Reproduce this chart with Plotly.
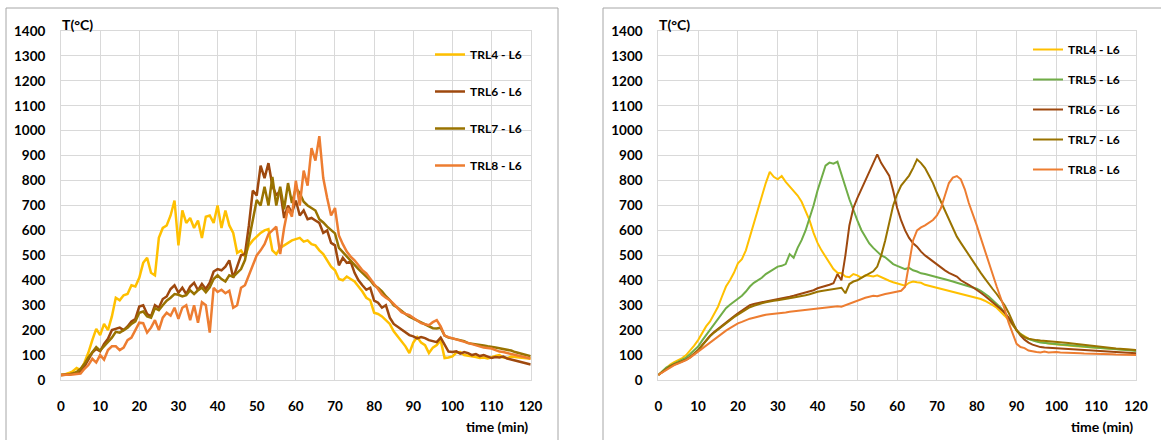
import plotly.graph_objects as go

# ---------------- data ----------------
time_min = list(range(0, 121))

# Left panel
L_TRL4 = [20, 22, 28, 35, 48, 40, 70, 110, 160, 205, 180, 225, 200, 255, 330, 320, 340, 345, 380, 375,
          410, 470, 490, 430, 420, 570, 610, 620, 660, 720, 540, 680, 630, 650, 610, 640, 570, 655, 660, 630,
          700, 610, 680, 620, 590, 510, 520, 495, 540, 560, 575, 590, 600, 605, 520, 505, 530, 540, 550, 560,
          565, 570, 555, 560, 545, 540, 520, 505, 480, 455, 440, 405, 400, 415, 405, 395, 375, 355, 330, 320,
          270, 265, 255, 240, 225, 195, 175, 155, 135, 108, 150, 172, 150, 140, 108, 130, 140, 160, 88, 90,
          95, 110, 112, 100, 98, 96, 92, 88, 90, 86, 92, 96, 100, 90, 88, 94, 92, 90, 86, 85, 85]
L_TRL6 = [20, 20, 22, 25, 28, 32, 55, 85, 110, 125, 115, 145, 165, 200, 205, 210, 200, 215, 235, 245,
          295, 300, 265, 255, 300, 290, 325, 335, 365, 380, 350, 370, 345, 375, 390, 360, 385, 365, 390, 435,
          445, 440, 455, 480, 410, 460, 500, 505, 620, 760, 740, 860, 810, 870, 780, 740, 760, 650, 700, 670,
          720, 660, 680, 645, 650, 640, 630, 590, 600, 550, 540, 460, 490, 470, 475, 430, 400, 380, 362, 370,
          318, 310, 290, 300, 250, 225, 214, 200, 190, 180, 175, 167, 172, 168, 160, 156, 152, 170, 140, 114,
          112, 115, 106, 112, 108, 100, 104, 96, 100, 95, 88, 92, 90, 94, 86, 82, 78, 72, 68, 65, 62]
L_TRL7 = [20, 20, 22, 26, 32, 45, 65, 90, 110, 132, 118, 135, 150, 170, 193, 190, 200, 210, 225, 235,
          270, 275, 255, 250, 288, 280, 300, 318, 330, 345, 342, 335, 340, 360, 345, 360, 370, 352, 372, 405,
          420, 405, 395, 420, 414, 430, 445, 481, 560, 650, 722, 700, 775, 700, 815, 700, 775, 685, 790, 710,
          770, 750, 715, 700, 690, 680, 645, 632, 615, 600, 588, 530, 512, 495, 478, 462, 445, 430, 415, 400,
          380, 370, 356, 336, 321, 300, 290, 276, 265, 254, 246, 240, 230, 222, 214, 208, 207, 210, 178, 170,
          167, 164, 160, 156, 148, 146, 142, 140, 138, 135, 134, 130, 127, 125, 121, 118, 112, 107, 104, 100, 95]
L_TRL8 = [20, 20, 21, 22, 24, 26, 45, 60, 85, 70, 100, 82, 120, 135, 135, 120, 130, 160, 170, 200,
          230, 228, 190, 210, 240, 200, 250, 270, 258, 290, 245, 290, 300, 240, 300, 230, 312, 300, 190, 370,
          353, 362, 348, 358, 290, 300, 370, 380, 420, 460, 500, 520, 545, 585, 600, 615, 505, 610, 690, 655,
          800, 700, 840, 780, 930, 880, 978, 810, 730, 660, 690, 580, 545, 515, 495, 480, 460, 440, 428, 405,
          385, 365, 342, 330, 320, 305, 290, 272, 265, 260, 250, 240, 228, 224, 220, 232, 240, 215, 178, 172,
          167, 163, 160, 152, 148, 145, 138, 134, 130, 128, 126, 120, 114, 112, 108, 105, 100, 95, 92, 88, 86]

# Right panel
R_TRL4 = [20, 35, 50, 62, 72, 80, 88, 100, 118, 138, 160, 190, 215, 235, 262, 294, 335, 375, 400, 430,
          468, 485, 520, 575, 630, 680, 740, 790, 835, 815, 805, 818, 795, 778, 760, 740, 715, 680, 640, 590,
          550, 520, 495, 470, 445, 430, 428, 415, 412, 425, 420, 410, 420, 418, 415, 420, 412, 405, 398, 392,
          388, 382, 378, 390, 395, 392, 390, 382, 378, 375, 370, 368, 364, 360, 356, 352, 348, 344, 340, 336,
          330, 325, 318, 310, 300, 290, 275, 258, 240, 220, 200, 185, 174, 166, 160, 156, 152, 149, 146, 144,
          142, 141, 139, 138, 136, 135, 134, 132, 131, 130, 129, 128, 127, 126, 125, 124, 123, 122, 121, 120, 119]
R_TRL5 = [20, 35, 50, 58, 66, 72, 80, 90, 104, 118, 134, 158, 180, 200, 222, 245, 268, 288, 302, 315,
          327, 338, 355, 375, 390, 400, 410, 425, 435, 445, 455, 458, 465, 505, 490, 530, 561, 600, 650, 700,
          760, 815, 860, 872, 868, 876, 830, 775, 725, 680, 640, 602, 575, 548, 530, 515, 500, 492, 480, 465,
          458, 452, 445, 450, 440, 435, 428, 425, 420, 416, 412, 408, 404, 398, 395, 390, 385, 380, 376, 372,
          366, 358, 348, 335, 320, 305, 290, 270, 248, 222, 200, 184, 172, 164, 158, 154, 150, 148, 146, 145,
          144, 142, 141, 139, 138, 136, 135, 134, 132, 131, 130, 129, 127, 126, 125, 124, 123, 121, 120, 118, 116]
R_TRL6 = [20, 32, 45, 55, 62, 68, 75, 82, 92, 105, 120, 140, 160, 178, 192, 205, 218, 232, 244, 256,
          267, 278, 290, 300, 305, 310, 312, 315, 318, 320, 322, 325, 330, 334, 338, 342, 346, 350, 355, 360,
          368, 372, 378, 382, 388, 425, 400, 500, 620, 690, 730, 765, 800, 830, 870, 905, 870, 845, 820, 760,
          690, 640, 600, 570, 548, 535, 515, 500, 488, 475, 462, 452, 440, 430, 422, 415, 400, 392, 382, 372,
          362, 350, 338, 325, 314, 300, 285, 270, 250, 225, 200, 178, 162, 150, 142, 136, 132, 130, 129, 128,
          127, 126, 124, 123, 122, 121, 120, 119, 118, 117, 116, 115, 114, 113, 112, 111, 110, 109, 108, 108, 107]
R_TRL7 = [20, 32, 45, 55, 62, 68, 75, 82, 92, 105, 118, 138, 158, 175, 190, 203, 215, 228, 240, 252,
          262, 272, 282, 292, 298, 304, 308, 312, 316, 318, 320, 322, 325, 328, 331, 334, 336, 340, 344, 350,
          354, 357, 360, 362, 364, 366, 370, 348, 385, 395, 400, 410, 418, 428, 436, 455, 500, 560, 630, 700,
          745, 780, 800, 820, 850, 885, 870, 850, 820, 790, 750, 715, 675, 640, 605, 575, 550, 525, 500, 475,
          455, 430, 408, 385, 365, 345, 322, 300, 270, 230, 198, 182, 172, 166, 162, 160, 158, 157, 156, 155,
          154, 152, 150, 148, 146, 144, 142, 140, 138, 136, 134, 132, 130, 129, 128, 126, 125, 124, 122, 121, 120]
R_TRL8 = [20, 30, 42, 52, 60, 66, 72, 80, 90, 102, 114, 128, 140, 152, 165, 175, 188, 198, 208, 218,
          227, 233, 240, 246, 250, 255, 259, 262, 264, 265, 266, 268, 271, 274, 276, 278, 280, 282, 284, 286,
          288, 290, 292, 294, 295, 296, 294, 300, 308, 314, 318, 324, 330, 334, 338, 336, 342, 345, 348, 352,
          354, 358, 374, 470, 560, 600, 612, 620, 632, 642, 660, 690, 740, 790, 812, 818, 805, 765, 710, 668,
          620, 570, 520, 475, 428, 375, 330, 285, 230, 185, 145, 132, 128, 118, 114, 112, 110, 114, 110, 112,
          112, 110, 110, 109, 108, 108, 107, 106, 106, 105, 105, 104, 104, 103, 103, 102, 102, 101, 101, 100, 100]

left_series = [("TRL4 - L6", L_TRL4), ("TRL6 - L6", L_TRL6), ("TRL7 - L6", L_TRL7), ("TRL8 - L6", L_TRL8)]
right_series = [("TRL4 - L6", R_TRL4), ("TRL5 - L6", R_TRL5), ("TRL6 - L6", R_TRL6),
                ("TRL7 - L6", R_TRL7), ("TRL8 - L6", R_TRL8)]
colors = {"TRL4 - L6": "#FFC000", "TRL5 - L6": "#70AD47", "TRL6 - L6": "#9E480E",
          "TRL7 - L6": "#997300", "TRL8 - L6": "#ED7D31"}

x_ticks = list(range(0, 121, 10))
y_ticks = list(range(0, 1401, 100))

# ---------------- figure ----------------
W, H = 1161, 440
FONT = "Lato"
fig = go.Figure()

for name, vals in left_series:
    fig.add_trace(go.Scatter(x=time_min, y=vals, mode="lines", name=name,
                             line=dict(color=colors[name], width=2.5),
                             xaxis="x", yaxis="y", legend="legend", legendgroup="L" + name))
for name, vals in right_series:
    fig.add_trace(go.Scatter(x=time_min, y=vals, mode="lines", name=name,
                             line=dict(color=colors[name], width=2),
                             xaxis="x2", yaxis="y2", legend="legend2", legendgroup="R" + name))

def px_x(p):
    return p / W

def px_y(p):
    return (H - p) / H

grid = "#d9d9d9"
axis_common = dict(showgrid=True, gridcolor=grid, gridwidth=1, zeroline=False,
                   showline=True, linecolor=grid, linewidth=1, mirror=True,
                   ticks="", automargin=False,
                   tickfont=dict(family=FONT, size=13.5, color="#000000", weight="bold"))

fig.update_layout(
    width=W, height=H,
    margin=dict(l=0, r=0, t=0, b=0),
    paper_bgcolor="white", plot_bgcolor="white",
    showlegend=True,
    xaxis=dict(domain=[px_x(61), px_x(530.7)], range=[0, 120], tickvals=x_ticks,
               anchor="y", ticklabelstandoff=14, **axis_common),
    yaxis=dict(domain=[px_y(380), px_y(31)], range=[0, 1400], tickvals=y_ticks,
               anchor="x", ticklabelstandoff=12, **axis_common),
    xaxis2=dict(domain=[px_x(658.3), px_x(1136)], range=[0, 120], tickvals=x_ticks,
                anchor="y2", ticklabelstandoff=14, **axis_common),
    yaxis2=dict(domain=[px_y(380), px_y(31)], range=[0, 1400], tickvals=y_ticks,
                anchor="x2", ticklabelstandoff=12, **axis_common),
    legend=dict(x=px_x(430), y=px_y(40), xanchor="left", yanchor="top",
                bgcolor="rgba(0,0,0,0)", borderwidth=0, itemwidth=30,
                tracegroupgap=18, font=dict(family=FONT, size=12, color="#000000", weight="bold")),
    legend2=dict(x=px_x(1028), y=px_y(35), xanchor="left", yanchor="top",
                 bgcolor="rgba(0,0,0,0)", borderwidth=0, itemwidth=30,
                 tracegroupgap=11, font=dict(family=FONT, size=12, color="#000000", weight="bold")),
    shapes=[
        dict(type="rect", xref="paper", yref="paper", x0=px_x(6), x1=px_x(558), y0=-0.2, y1=px_y(8),
             line=dict(color="#a6a6a6", width=1), fillcolor="rgba(0,0,0,0)", layer="below"),
        dict(type="rect", xref="paper", yref="paper", x0=px_x(603), x1=1.2, y0=-0.2, y1=px_y(8),
             line=dict(color="#a6a6a6", width=1), fillcolor="rgba(0,0,0,0)", layer="below"),
    ],
    annotations=[
        dict(text="T(°C)", xref="paper", yref="paper", x=px_x(60), y=px_y(25), xanchor="left",
             yanchor="middle", showarrow=False, font=dict(family=FONT, size=14, color="#000000", weight="bold")),
        dict(text="T(°C)", xref="paper", yref="paper", x=px_x(657), y=px_y(25), xanchor="left",
             yanchor="middle", showarrow=False, font=dict(family=FONT, size=14, color="#000000", weight="bold")),
        dict(text="time (min)", xref="paper", yref="paper", x=px_x(530), y=px_y(426), xanchor="right",
             yanchor="middle", showarrow=False, font=dict(family=FONT, size=14, color="#000000", weight="bold")),
        dict(text="time (min)", xref="paper", yref="paper", x=px_x(1135), y=px_y(426), xanchor="right",
             yanchor="middle", showarrow=False, font=dict(family=FONT, size=14, color="#000000", weight="bold")),
    ],
)

fig.write_html("out.html",
               config={"displayModeBar": False},
               post_script="document.body.style.margin='0';document.body.style.padding='0';"
                           "document.body.style.overflow='hidden';")
